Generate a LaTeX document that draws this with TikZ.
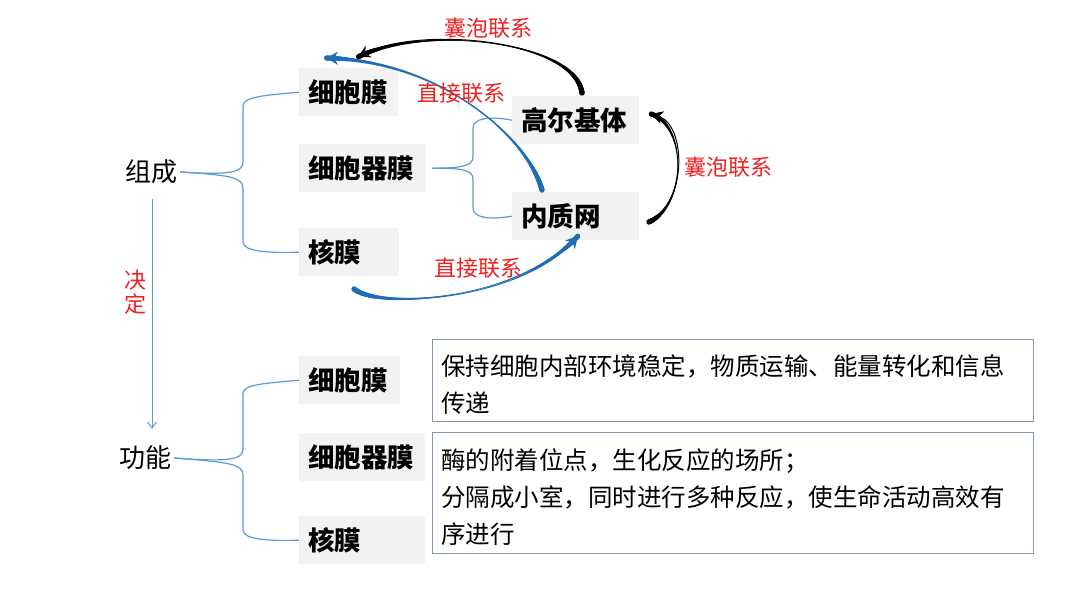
\documentclass[tikz,border=0pt]{standalone}
\usepackage{fontspec}
\setmainfont{Noto Sans CJK SC}
\usetikzlibrary{arrows.meta,decorations.markings}
\definecolor{lblred}{HTML}{F02020}
\definecolor{darrow}{HTML}{1F6EB5}
\definecolor{thinblue}{HTML}{5B9BD5}
\definecolor{boxgray}{HTML}{F2F2F2}
\definecolor{tborder}{HTML}{8497B0}
\tikzset{
  graybox/.style={fill=boxgray, draw=none, anchor=north west, inner xsep=9pt, inner ysep=0pt,
     font=\fontsize{26.5}{30}\selectfont\bfseries, align=left, minimum height=48pt},
  plain/.style={font=\fontsize{26}{30}\selectfont, inner sep=3pt},
  lbl/.style={text=lblred, font=\fontsize{22}{26}\selectfont, inner sep=1pt},
  brace/.style={draw=thinblue, line width=1.2pt},
  textbox/.style={draw=tborder, line width=0.9pt, anchor=north west, inner xsep=9pt, inner ysep=4pt,
     font=\fontsize{24.5}{37}\selectfont, align=left},
  taper/.style={postaction={decorate, decoration={markings,
     mark=between positions 0 and 1 step 0.6pt with {%
       \pgfmathsetmacro\tp{\pgfkeysvalueof{/pgf/decoration/mark info/distance from start}/\pgfdecoratedpathlength}%
       \pgfmathsetmacro\rr{0.5+2.2*(2*\tp-1)*(2*\tp-1)}%
       \fill[#1] (0,0) circle (\rr pt);}}}},
  thickblue/.style={draw=darrow, line width=1pt, -{Stealth[length=12pt,width=13pt]}, taper=darrow},
  thickblack/.style={draw=black, line width=1pt, -{Stealth[length=12pt,width=13pt]}, taper=black},
}
\begin{document}
\begin{tikzpicture}[x=1pt,y=-1pt]
\useasboundingbox (0,0) rectangle (1080,608);
% top part
\node[plain] (zc) at (151,172) {组成};
\node[graybox, text width=81pt] (m1) at (299,68) {细胞膜};
\node[graybox, text width=109pt] (o1) at (299,144) {细胞器膜};
\node[graybox, text width=82pt] (n1) at (299,228) {核膜};
\node[graybox, text width=109pt] (g) at (512,96) {高尔基体};
\node[graybox, text width=109pt] (er) at (512,192) {内质网};
% braces
\draw[brace] (zc.east) .. controls (228,175) and (243,173) .. (243,162) -- (243,106)
   .. controls (243,96) and (270,95) .. (m1.west);
\draw[brace] (zc.east) .. controls (228,175) and (243,177) .. (243,188) -- (243,242)
   .. controls (243,252) and (270,253) .. (n1.west);
\draw[brace] ([xshift=6pt]o1.east) .. controls (462,168) and (473,166) .. (473,157) -- (473,128)
   .. controls (473,118) and (490,116) .. (g.west);
\draw[brace] ([xshift=6pt]o1.east) .. controls (462,168) and (473,170) .. (473,179) -- (473,208)
   .. controls (473,218) and (490,220) .. (er.west);
% connectors
\coordinate (gtop) at (582,93);
\coordinate (m1top) at (358,57);
\coordinate (ertop) at (542,190);
\coordinate (m1tl) at (326,58);
\coordinate (erright) at (649,222);
\coordinate (gright) at (651,114);
\coordinate (n1bot) at (354,289);
\coordinate (erbot) at (578,236);
\draw[thickblack] (gtop) .. controls (575,40) and (420,25) .. (m1top);
\draw[thickblue] (ertop) .. controls (525,130) and (430,60) .. (m1tl);
\draw[thickblack] (erright) .. controls (687,205) and (687,125) .. (gright);
\draw[thickblue] (n1bot) .. controls (380,310) and (520,300) .. (erbot);
\node[lbl] (l1) at (488,28) {囊泡联系};
\node[lbl] (l2) at (461,93) {直接联系};
\node[lbl] (l3) at (728,167) {囊泡联系};
\node[lbl] (l4) at (478,268) {直接联系};
% bottom part
\node[plain] (gn) at (145,458) {功能};
\draw[draw=thinblue, line width=1pt, -{Straight Barb[length=6pt,width=9pt]}, shorten <=12pt, shorten >=14pt]
  ([xshift=1pt]zc.south) -- ([xshift=1pt]zc.south |- gn.north);
\node[lbl, align=center, font=\fontsize{22}{24}\selectfont] (jd) at (135,292) {决\\定};
\node[graybox, text width=83pt] (m2) at (299,356) {细胞膜};
\node[graybox, text width=108pt] (o2) at (299,433) {细胞器膜};
\node[graybox, text width=108pt] (n2) at (299,516) {核膜};
\draw[brace] (gn.east) .. controls (228,462) and (243,460) .. (243,449) -- (243,393)
   .. controls (243,384) and (270,383) .. (m2.west);
\draw[brace] (gn.east) .. controls (228,462) and (243,464) .. (243,475) -- (243,530)
   .. controls (243,540) and (270,541) .. (n2.west);
\node[textbox, text width=583pt, minimum height=82pt] (t1) at (432,339)
  {\rule{0pt}{30pt}保持细胞内部环境稳定，物质运输、能量转化和信息\\传递};
\node[textbox, text width=583pt, minimum height=121pt] (t2) at (432,432)
  {\rule{0pt}{30pt}酶的附着位点，生化反应的场所；\\分隔成小室，同时进行多种反应，使生命活动高效有\\序进行};
\end{tikzpicture}
\end{document}
